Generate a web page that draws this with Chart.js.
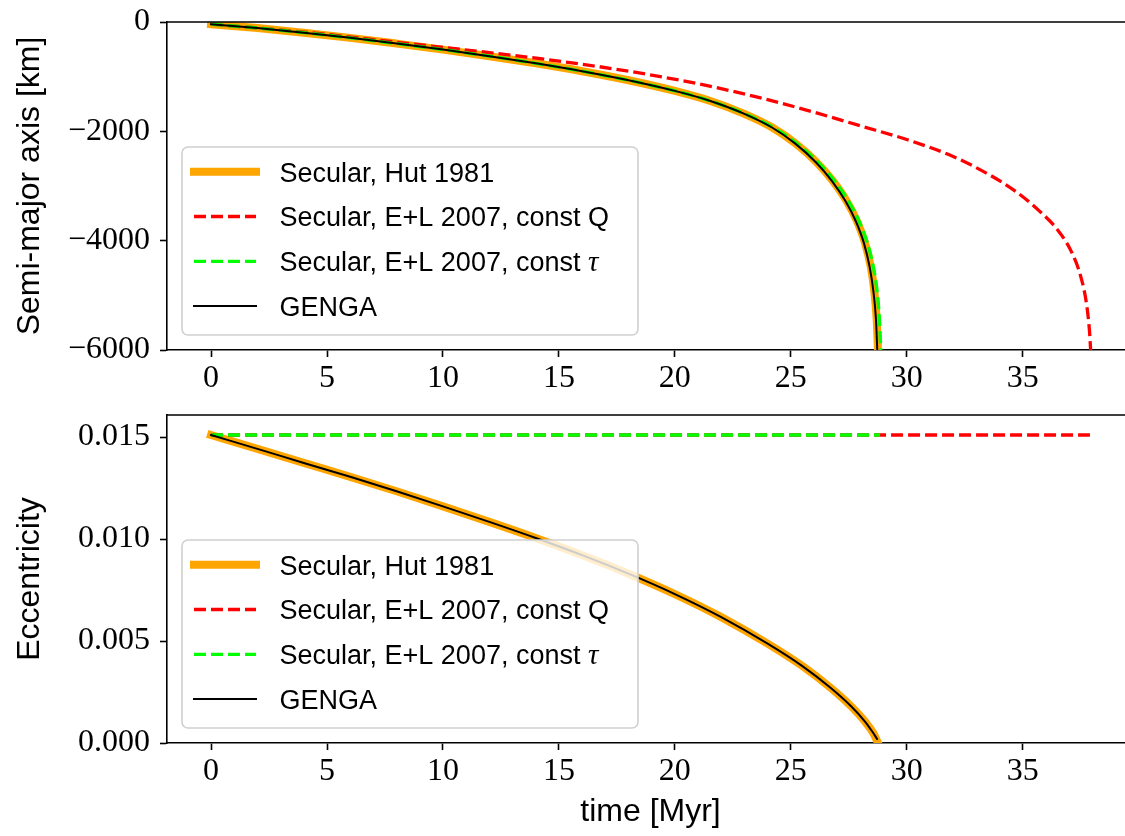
<!DOCTYPE html>
<html>
<head>
<meta charset="utf-8">
<script src="https://cdn.jsdelivr.net/npm/chart.js@4.4.0/dist/chart.umd.min.js"></script>
<style>
  html, body { margin: 0; padding: 0; background: #fff; overflow: hidden; }
  #wrap { position: relative; width: 1125px; height: 836px; overflow: hidden; }
  #wrap canvas { position: absolute; left: 0; }
  #axisChart { top: 0; }
  #eccChart { top: 400px; }
</style>
</head>
<body>
<div id="wrap">
  <canvas id="axisChart" width="1140" height="400"></canvas>
  <canvas id="eccChart" width="1140" height="436"></canvas>
</div>
<script>
// ---- ticks ----
const timeTicks = [0, 5, 10, 15, 20, 25, 30, 35];
const axisTicks = [0, -2000, -4000, -6000];
const eccTicks = [0, 0.005, 0.010, 0.015];

// ---- semi-major axis change [km] vs time [Myr] ----
const hutTime = [0, 2, 4, 6, 8, 10, 12, 14, 16, 18, 20, 21.5, 23, 24.2, 25.2, 26.1, 26.8, 27.4, 27.85, 28.2, 28.45, 28.6, 28.7, 28.76];
const hutAxis = [-40, -110, -195, -290, -395, -505, -625, -755, -900, -1065, -1260, -1440, -1680, -1930, -2220, -2560, -2900, -3270, -3640, -4040, -4480, -4920, -5420, -6000];

const tauTime = [0, 2, 4, 6, 8, 10, 12, 14, 16, 18, 20, 21.5, 23.03, 24.24, 25.25, 26.16, 26.87, 27.48, 27.94, 28.3, 28.56, 28.72, 28.82, 28.88];
const tauAxis = [-40, -110, -195, -290, -395, -505, -625, -755, -900, -1065, -1260, -1440, -1680, -1930, -2220, -2560, -2900, -3270, -3640, -4040, -4480, -4920, -5420, -6000];

const qTime = [0, 4, 8, 12, 15, 18, 21, 24, 26, 28, 30, 32, 33.5, 34.7, 35.7, 36.5, 37.1, 37.5, 37.75, 37.88, 37.93];
const qAxis = [-40, -185, -370, -560, -715, -900, -1130, -1420, -1650, -1900, -2150, -2460, -2780, -3100, -3450, -3800, -4200, -4650, -5150, -5650, -6000];

const gengaTime = [0, 2, 4, 6, 8, 10, 12, 14, 16, 18, 20, 21.5, 23, 24.19, 25.18, 26.07, 26.76, 27.35, 27.8, 28.15, 28.4, 28.56, 28.67, 28.73];
const gengaAxis = [-40, -110, -195, -290, -395, -505, -625, -755, -900, -1065, -1260, -1440, -1680, -1930, -2220, -2560, -2900, -3270, -3640, -4040, -4480, -4920, -5420, -6000];

// ---- eccentricity vs time [Myr] ----
const eccHutTime = [0, 2, 4, 6, 8, 10, 12, 14, 16, 18, 20, 22, 24, 25.5, 26.7, 27.6, 28.2, 28.55, 28.76];
const eccHut = [0.0151, 0.01442, 0.01373, 0.01305, 0.01234, 0.0116, 0.01084, 0.01005, 0.00921, 0.0083, 0.0073, 0.00617, 0.00487, 0.00377, 0.00272, 0.0018, 0.00105, 0.0005, 0.0];

const eccGengaTime = [0, 2, 4, 6, 8, 10, 12, 14, 16, 18, 20, 22, 24, 25.5, 26.7, 27.6, 28.2, 28.55, 28.72];
const eccGenga = [0.0151, 0.01442, 0.01373, 0.01305, 0.01234, 0.0116, 0.01084, 0.01005, 0.00921, 0.0083, 0.0073, 0.00617, 0.00487, 0.00377, 0.00272, 0.0018, 0.00105, 0.0005, 0.0002];

const eccTauTime = [0, 28.85];
const eccTau = [0.0151, 0.0151];
const eccQTime = [0, 37.9];
const eccQ = [0.0151, 0.0151];

const legendLabels = ["Secular, Hut 1981", "Secular, E+L 2007, const Q", "Secular, E+L 2007, const τ", "GENGA"];

const SERIF = "'Liberation Serif', 'DejaVu Serif', serif";
const SANS = "'Liberation Sans', 'DejaVu Sans', sans-serif";

const toPoints = (xs, ys) => xs.map((x, i) => ({ x: x, y: ys[i] }));
const minusSign = (s) => s.replace("-", "\u2212");

// line styles, in legend order
const styles = [
  { color: "#ffa500", width: 8, dash: [], cap: "square" },
  { color: "#ff0000", width: 3.3, dash: [12, 5], cap: "butt" },
  { color: "#00ff00", width: 3.3, dash: [12, 5], cap: "butt" },
  { color: "#000000", width: 2, dash: [], cap: "square" },
];

function makeDatasets(series) {
  // series: [hut, constQ, constTau, genga]; genga drawn on top
  return series.map((pts, i) => ({
    data: pts,
    borderColor: styles[i].color,
    borderWidth: styles[i].width,
    borderDash: styles[i].dash,
    borderCapStyle: styles[i].cap,
    borderJoinStyle: "round",
    pointRadius: 0,
    cubicInterpolationMode: "monotone",
    fill: false,
    clip: 0,
    order: 3 - i,
  }));
}

// top + right spine
const frame = {
  id: "frame",
  afterDraw(chart) {
    const { ctx, chartArea: a } = chart;
    ctx.save();
    ctx.strokeStyle = "#000";
    ctx.lineWidth = 1.6;
    ctx.beginPath();
    ctx.moveTo(a.left, a.top);
    ctx.lineTo(a.right, a.top);
    ctx.lineTo(a.right, a.bottom);
    ctx.stroke();
    ctx.restore();
  },
};

// legend box in the lower left corner of the axes
const insetLegend = {
  id: "insetLegend",
  afterDatasetsDraw(chart) {
    const { ctx, chartArea: a } = chart;
    const w = 456, h = 188;
    const left = a.left + 15, top = a.bottom - 15 - h;
    ctx.save();
    ctx.beginPath();
    ctx.roundRect(left, top, w, h, 6);
    ctx.fillStyle = "rgba(255,255,255,0.8)";
    ctx.fill();
    ctx.strokeStyle = "#d0d0d0";
    ctx.lineWidth = 1.6;
    ctx.stroke();

    legendLabels.forEach((label, i) => {
      const cy = top + 24.7 + i * 44.8;
      const s = styles[i];
      ctx.beginPath();
      ctx.setLineDash(s.dash);
      ctx.lineCap = s.cap;
      ctx.strokeStyle = s.color;
      ctx.lineWidth = s.width;
      ctx.moveTo(left + 12, cy);
      ctx.lineTo(left + 74, cy);
      ctx.stroke();
      ctx.setLineDash([]);

      const base = cy + 9.8;
      const tx = left + 97.5;
      ctx.fillStyle = "#000";
      ctx.textBaseline = "alphabetic";
      ctx.textAlign = "left";
      ctx.font = "27px " + SANS;
      if (label.endsWith("τ")) {
        const head = label.slice(0, -1);
        ctx.fillText(head, tx, base);
        const hw = ctx.measureText(head).width;
        ctx.font = "italic 29px " + SERIF;
        ctx.fillText("τ", tx + hw, base);
      } else {
        ctx.fillText(label, tx, base);
      }
    });
    ctx.restore();
  },
};

function axisOptions(ticks, fmt) {
  return {
    type: "linear",
    afterBuildTicks: (scale) => { scale.ticks = ticks.map((v) => ({ value: v })); },
    border: { display: true, color: "#000", width: 1.6 },
    grid: { drawOnChartArea: false, drawTicks: true, tickLength: 7, tickWidth: 1.6, tickColor: "#000" },
    ticks: {
      color: "#000",
      font: { family: SERIF, size: 32 },
      callback: fmt,
    },
  };
}

function buildChart(id, opts) {
  const x = axisOptions(timeTicks, (v) => String(v));
  x.min = -1.9;
  x.max = 39.8;
  x.ticks.padding = 2;
  x.ticks.maxRotation = 0;
  x.afterFit = (scale) => {
    scale.height = opts.xHeight;
    scale.paddingLeft = 0;
    scale.paddingRight = 0;
  };
  if (opts.xTitle) {
    x.title = { display: true, text: opts.xTitle, color: "#000", font: { family: SANS, size: 32 }, padding: { top: 0, bottom: 5 } };
  }

  const y = axisOptions(opts.yTicks, opts.yFormat);
  y.min = opts.yMin;
  y.max = opts.yMax;
  y.ticks.padding = 10;
  y.afterFit = (scale) => {
    scale.width = 167;
    scale.paddingTop = 0;
    scale.paddingBottom = 0;
  };
  y.title = { display: true, text: opts.yTitle, color: "#000", font: { family: SANS, size: 32 }, padding: { top: 11, bottom: 0 } };

  return new Chart(document.getElementById(id), {
    type: "line",
    data: { datasets: makeDatasets(opts.series) },
    options: {
      responsive: false,
      animation: false,
      devicePixelRatio: 1,
      layout: { padding: { top: opts.padTop, right: 6, left: 0, bottom: 0 } },
      plugins: { legend: { display: false }, tooltip: { enabled: false } },
      scales: { x: x, y: y },
    },
    plugins: [frame, insetLegend],
  });
}

// semi-major axis panel
buildChart("axisChart", {
  padTop: 22,
  xHeight: 50,
  yMin: -6000,
  yMax: 0,
  yTicks: axisTicks,
  yFormat: (v) => minusSign(String(v)),
  yTitle: "Semi-major axis [km]",
  series: [
    toPoints(hutTime, hutAxis),
    toPoints(qTime, qAxis),
    toPoints(tauTime, tauAxis),
    toPoints(gengaTime, gengaAxis),
  ],
});

// eccentricity panel
buildChart("eccChart", {
  padTop: 15,
  xHeight: 93,
  xTitle: "time [Myr]",
  yMin: 0,
  yMax: 0.01608,
  yTicks: eccTicks,
  yFormat: (v) => v.toFixed(3),
  yTitle: "Eccentricity",
  series: [
    toPoints(eccHutTime, eccHut),
    toPoints(eccQTime, eccQ),
    toPoints(eccTauTime, eccTau),
    toPoints(eccGengaTime, eccGenga),
  ],
});
</script>
</body>
</html>
